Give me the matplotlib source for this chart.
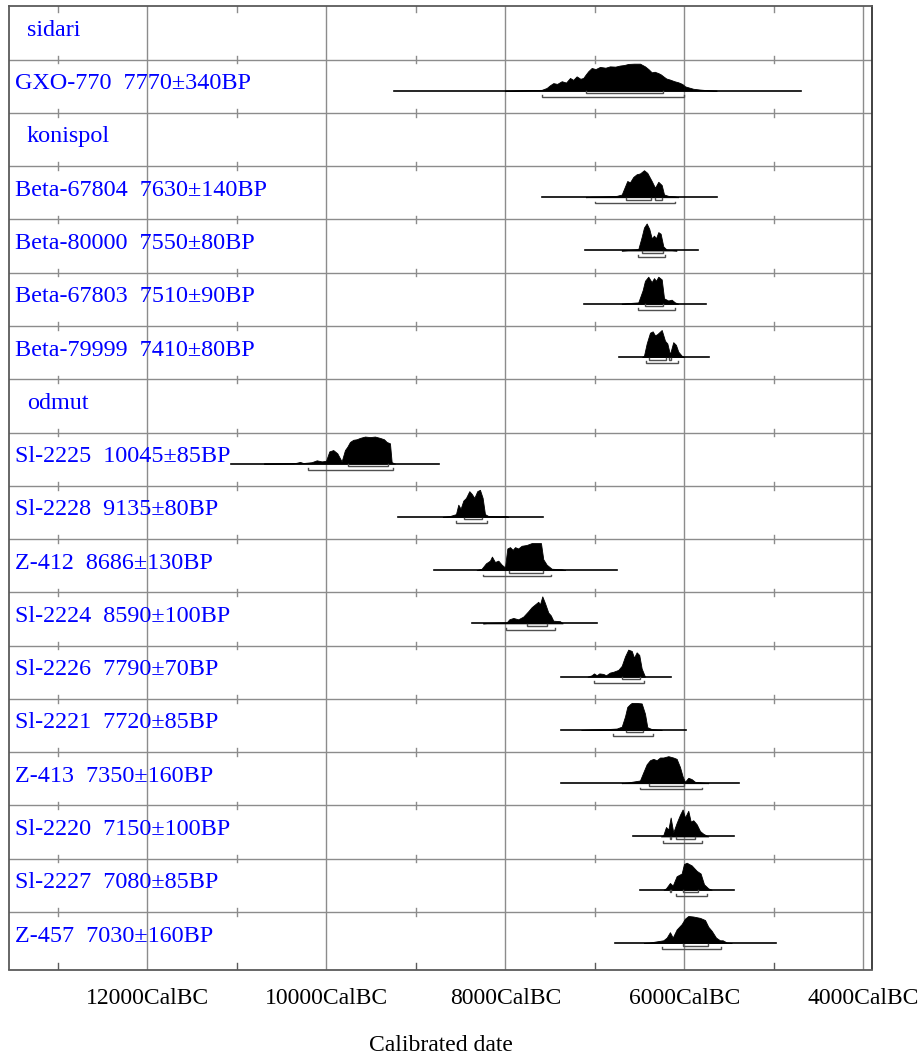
"""
plot.py
OxCal-style multiplot of calibrated radiocarbon dates (sidari / konispol / odmut)
"""

import matplotlib
matplotlib.use("Agg")
import matplotlib.pyplot as plt
import matplotlib.transforms as mtransforms

plt.rcParams["font.family"] = ["Liberation Serif", "DejaVu Serif"]

# ---- row labels (top to bottom); None in SAMPLE_KEYS marks a site header ----
ROW_LABELS = [
    "sidari",
    "GXO-770  7770±340BP",
    "konispol",
    "Beta-67804  7630±140BP",
    "Beta-80000  7550±80BP",
    "Beta-67803  7510±90BP",
    "Beta-79999  7410±80BP",
    "odmut",
    "Sl-2225  10045±85BP",
    "Sl-2228  9135±80BP",
    "Z-412  8686±130BP",
    "Sl-2224  8590±100BP",
    "Sl-2226  7790±70BP",
    "Sl-2221  7720±85BP",
    "Z-413  7350±160BP",
    "Sl-2220  7150±100BP",
    "Sl-2227  7080±85BP",
    "Z-457  7030±160BP",
]
SAMPLE_KEYS = [None, "GXO-770", None, "Beta-67804", "Beta-80000", "Beta-67803",
               "Beta-79999", None, "Sl-2225", "Sl-2228", "Z-412", "Sl-2224",
               "Sl-2226", "Sl-2221", "Z-413", "Sl-2220", "Sl-2227", "Z-457"]

# ---- x axis (years cal BC) ----
MAJOR_TICKS = [12000, 10000, 8000, 6000, 4000]
MINOR_TICKS = [13000, 11000, 9000, 7000, 5000]
TICK_LABELS = ["12000CalBC", "10000CalBC", "8000CalBC", "6000CalBC", "4000CalBC"]
X_LEFT, X_RIGHT = 13548, 3900

# ---- probability distributions: years cal BC and relative density ----
GXO_770_YEARS = [8004, 7724, 7593, 7537, 7500, 7463, 7420, 7369, 7320, 7276, 7240, 7202,
                 7160, 7128, 7100, 7072, 7034, 6990, 6941, 6880, 6830, 6770, 6718, 6670,
                 6625, 6560, 6494, 6438, 6400, 6363, 6330, 6289, 6260, 6233, 6200, 6159,
                 6110, 6066, 6030, 6010, 5991, 5950, 5898, 5820, 5748, 5636]
GXO_770_DENS = [0.0, 0.02, 0.03, 0.1, 0.2, 0.28, 0.25, 0.35, 0.3, 0.47, 0.4, 0.53,
                0.44, 0.47, 0.6, 0.72, 0.84, 0.8, 0.88, 0.85, 0.9, 0.89, 0.93, 0.95,
                0.99, 1.0, 1.0, 0.9, 0.8, 0.68, 0.7, 0.65, 0.6, 0.53, 0.45, 0.41,
                0.35, 0.31, 0.26, 0.22, 0.16, 0.12, 0.07, 0.04, 0.02, 0.0]

BETA_67804_YEARS = [7100, 7034, 6904, 6754, 6698, 6661, 6636, 6606, 6569, 6531, 6494, 6449,
                    6412, 6363, 6326, 6289, 6251, 6225, 6178, 6103, 6066]
BETA_67804_DENS = [0.0, 0.02, 0.03, 0.05, 0.1, 0.4, 0.6, 0.55, 0.75, 0.85, 0.88, 1.0,
                   0.9, 0.6, 0.35, 0.57, 0.45, 0.1, 0.05, 0.03, 0.0]

BETA_80000_YEARS = [6700, 6606, 6513, 6475, 6449, 6419, 6390, 6363, 6337, 6315, 6289, 6263,
                    6233, 6195, 6084]
BETA_80000_DENS = [0.0, 0.02, 0.05, 0.5, 0.85, 1.0, 0.8, 0.45, 0.55, 0.45, 0.68, 0.62,
                   0.15, 0.03, 0.0]

BETA_67803_YEARS = [6700, 6643, 6513, 6464, 6438, 6401, 6363, 6337, 6315, 6289, 6251, 6225,
                    6178, 6140, 6103, 6066]
BETA_67803_DENS = [0.0, 0.02, 0.05, 0.5, 0.85, 1.0, 0.8, 0.95, 0.85, 1.0, 0.9, 0.2,
                   0.12, 0.15, 0.05, 0.0]

BETA_79999_YEARS = [6470, 6449, 6419, 6382, 6352, 6326, 6300, 6251, 6214, 6188, 6159, 6122,
                    6092, 6066, 6028, 6002]
BETA_79999_DENS = [0.0, 0.05, 0.5, 0.9, 0.95, 0.8, 0.85, 1.0, 0.6, 0.5, 0.1, 0.55,
                   0.45, 0.2, 0.05, 0.0]

SL_2225_YEARS = [10700, 10519, 10370, 10332, 10295, 10258, 10164, 10108, 10052, 10004, 9967,
                 9923, 9878, 9829, 9792, 9766, 9736, 9699, 9661, 9624, 9568, 9512, 9457,
                 9401, 9356, 9326, 9289, 9270, 9233]
SL_2225_DENS = [0.0, 0.005, 0.01, 0.03, 0.06, 0.02, 0.05, 0.12, 0.08, 0.1, 0.45,
                0.5, 0.38, 0.08, 0.5, 0.62, 0.8, 0.88, 0.9, 0.95, 1.0, 0.98, 1.0,
                0.95, 0.9, 0.8, 0.75, 0.05, 0.0]

SL_2228_YEARS = [8700, 8618, 8551, 8525, 8499, 8469, 8439, 8402, 8375, 8346, 8313, 8283,
                 8253, 8227, 8190, 8059, 7992, 7966]
SL_2228_DENS = [0.0, 0.03, 0.1, 0.45, 0.3, 0.6, 0.7, 0.95, 0.85, 0.7, 0.95, 1.0,
                0.7, 0.1, 0.03, 0.02, 0.03, 0.0]

Z_412_YEARS = [8320, 8264, 8216, 8171, 8149, 8115, 8078, 8040, 8003, 7977, 7947, 7917,
               7891, 7855, 7817, 7761, 7705, 7649, 7601, 7575, 7537, 7481, 7369, 7332]
Z_412_DENS = [0.0, 0.05, 0.25, 0.35, 0.5, 0.3, 0.35, 0.2, 0.1, 0.8, 0.85, 0.75,
              0.85, 0.8, 0.9, 0.93, 1.0, 1.0, 1.0, 0.4, 0.2, 0.05, 0.03, 0.0]

SL_2224_YEARS = [8250, 8171, 7984, 7955, 7910, 7855, 7799, 7743, 7705, 7668, 7631, 7612,
                 7586, 7556, 7519, 7492, 7463, 7388, 7358]
SL_2224_DENS = [0.0, 0.02, 0.04, 0.15, 0.2, 0.15, 0.25, 0.45, 0.6, 0.7, 0.8, 0.7,
                1.0, 0.75, 0.4, 0.3, 0.1, 0.08, 0.0]

SL_2226_YEARS = [7080, 7034, 7008, 6978, 6949, 6904, 6874, 6830, 6792, 6736, 6698, 6661,
                 6625, 6586, 6561, 6531, 6502, 6475, 6438]
SL_2226_DENS = [0.0, 0.05, 0.12, 0.05, 0.12, 0.1, 0.05, 0.15, 0.18, 0.25, 0.4, 0.75,
                1.0, 0.95, 0.7, 0.9, 0.8, 0.3, 0.0]

SL_2221_YEARS = [7150, 7034, 6866, 6754, 6698, 6661, 6636, 6606, 6586, 6531, 6475, 6438,
                 6412, 6363, 6251]
SL_2221_DENS = [0.0, 0.02, 0.03, 0.05, 0.12, 0.5, 0.85, 0.95, 1.0, 1.0, 0.98, 0.6,
                0.1, 0.03, 0.0]

Z_413_YEARS = [6700, 6625, 6494, 6457, 6419, 6382, 6345, 6307, 6270, 6233, 6177, 6122,
               6084, 6047, 6017, 5991, 5954, 5916, 5879, 5786, 5730]
Z_413_DENS = [0.0, 0.03, 0.1, 0.4, 0.7, 0.85, 0.9, 0.85, 0.95, 0.95, 1.0, 0.95,
              0.9, 0.6, 0.25, 0.05, 0.2, 0.15, 0.05, 0.02, 0.0]

SL_2220_YEARS = [6260, 6233, 6203, 6177, 6151, 6122, 6084, 6047, 6017, 5991, 5954, 5927,
                 5898, 5860, 5823, 5786, 5730]
SL_2220_DENS = [0.0, 0.05, 0.35, 0.25, 0.7, 0.15, 0.5, 0.8, 1.0, 0.7, 0.95, 0.55,
                0.6, 0.45, 0.2, 0.1, 0.0]

SL_2227_YEARS = [6230, 6203, 6159, 6128, 6084, 6028, 6002, 5972, 5916, 5860, 5816, 5778,
                 5730, 5692]
SL_2227_DENS = [0.0, 0.05, 0.25, 0.15, 0.5, 0.6, 0.95, 1.0, 0.9, 0.7, 0.6, 0.2,
                0.05, 0.0]

Z_457_YEARS = [6450, 6382, 6233, 6195, 6159, 6128, 6084, 6028, 5991, 5954, 5898, 5823,
               5767, 5730, 5692, 5644, 5600, 5569, 5525, 5469]
Z_457_DENS = [0.0, 0.02, 0.1, 0.2, 0.4, 0.2, 0.5, 0.7, 0.9, 1.0, 0.98, 0.93,
              0.85, 0.6, 0.45, 0.2, 0.1, 0.1, 0.02, 0.0]

# ---- baseline extent (years cal BC) ----
SPANS = {
    "GXO-770": (9244, 4697), "Beta-67804": (7593, 5636), "Beta-80000": (7109, 5849),
    "Beta-67803": (7121, 5759), "Beta-79999": (6729, 5722), "Sl-2225": (11066, 8738),
    "Sl-2228": (9196, 7575), "Z-412": (8794, 6754), "Sl-2224": (8369, 6978),
    "Sl-2226": (7377, 6147), "Sl-2221": (7377, 5983), "Z-413": (7380, 5390),
    "Sl-2220": (6575, 5442), "Sl-2227": (6494, 5442), "Z-457": (6773, 4977),
}

# ---- 68.2% and 95.4% ranges (years cal BC) ----
RANGES_68 = {
    "GXO-770": [(7101, 6240)], "Beta-67804": [(6651, 6371), (6326, 6251)],
    "Beta-80000": [(6468, 6240)], "Beta-67803": [(6438, 6240)],
    "Beta-79999": [(6390, 6207), (6165, 6150)], "Sl-2225": [(9755, 9308)],
    "Sl-2228": [(8458, 8257)], "Z-412": [(7955, 7575)], "Sl-2224": [(7754, 7530)],
    "Sl-2226": [(6692, 6494)], "Sl-2221": [(6651, 6457)], "Z-413": [(6390, 6000)],
    "Sl-2220": [(6155, 6145), (6092, 5879)], "Sl-2227": [(6155, 6145), (6017, 5842)],
    "Z-457": [(6017, 5730)],
}
RANGES_95 = {
    "GXO-770": [(7593, 6002)], "Beta-67804": [(6997, 6099)], "Beta-80000": [(6513, 6214)],
    "Beta-67803": [(6513, 6103)], "Beta-79999": [(6427, 6066)], "Sl-2225": [(10202, 9252)],
    "Sl-2228": [(8554, 8208)], "Z-412": [(8253, 7492)], "Sl-2224": [(7992, 7444)],
    "Sl-2226": [(7005, 6446)], "Sl-2221": [(6799, 6345)], "Z-413": [(6494, 5797)],
    "Sl-2220": [(6233, 5797)], "Sl-2227": [(6092, 5741)], "Z-457": [(6251, 5592)],
}

DISTS = {
    "GXO-770": (GXO_770_YEARS, GXO_770_DENS), "Beta-67804": (BETA_67804_YEARS, BETA_67804_DENS),
    "Beta-80000": (BETA_80000_YEARS, BETA_80000_DENS), "Beta-67803": (BETA_67803_YEARS, BETA_67803_DENS),
    "Beta-79999": (BETA_79999_YEARS, BETA_79999_DENS), "Sl-2225": (SL_2225_YEARS, SL_2225_DENS),
    "Sl-2228": (SL_2228_YEARS, SL_2228_DENS), "Z-412": (Z_412_YEARS, Z_412_DENS),
    "Sl-2224": (SL_2224_YEARS, SL_2224_DENS), "Sl-2226": (SL_2226_YEARS, SL_2226_DENS),
    "Sl-2221": (SL_2221_YEARS, SL_2221_DENS), "Z-413": (Z_413_YEARS, Z_413_DENS),
    "Sl-2220": (SL_2220_YEARS, SL_2220_DENS), "Sl-2227": (SL_2227_YEARS, SL_2227_DENS),
    "Z-457": (Z_457_YEARS, Z_457_DENS),
}

# layout in row units (one row = 53.27 px)
BASE_OFF = 0.582     # baseline below row top
PEAK_H = 0.507       # height of a density of 1.0
R68_OFF = 0.048
R95_OFF = 0.118
TEXT_OFF = 0.554     # text baseline below row top
GRID_C = "#8c8c8c"
FRAME_C = "#5a5a5a"
BRACKET_C = "#505050"
FS = 17.4
FS_AXIS = 17


def draw_bracket(ax, y, a, b):
    ax.plot([a, a, b, b], [y - 0.035, y, y, y - 0.035], color=BRACKET_C, lw=1.0,
            solid_joinstyle="miter", zorder=4)


def main():
    fig = plt.figure(figsize=(9.24, 10.58), dpi=100)
    W, H = 924, 1058
    top_px, bot_px, left_px, right_px = 6.4, 969.5, 9, 872
    ax = fig.add_axes([left_px / W, 1 - bot_px / H, (right_px - left_px) / W,
                       (bot_px - top_px) / H])
    n_rows = len(ROW_LABELS)
    y_bottom = (bot_px - top_px) / 53.27
    ax.set_xlim(X_LEFT, X_RIGHT)
    ax.set_ylim(y_bottom, 0)

    # grid
    for t in MAJOR_TICKS:
        ax.axvline(t, color=GRID_C, lw=1.0, zorder=1)
    for r in range(1, n_rows):
        ax.axhline(r, color=GRID_C, lw=1.0, zorder=1)
        for t in MINOR_TICKS:
            ax.plot([t, t], [r - 0.07, r + 0.07], color=GRID_C, lw=1.0, zorder=1)
    for t in MINOR_TICKS:
        ax.plot([t, t], [0, 0.11], color=GRID_C, lw=1.0, zorder=1)
        ax.plot([t, t], [y_bottom, y_bottom - 0.13], color=FRAME_C, lw=1.0, zorder=1)

    label_tf = mtransforms.blended_transform_factory(ax.transAxes, ax.transData)
    for r, (label, key) in enumerate(zip(ROW_LABELS, SAMPLE_KEYS)):
        if key is None:
            ax.text(18 / 863, r + TEXT_OFF, label, transform=label_tf, color="#0000ff",
                    fontsize=FS, va="baseline", ha="left", zorder=6)
            continue
        ax.text(6 / 863, r + TEXT_OFF, label, transform=label_tf, color="#0000ff",
                fontsize=FS, va="baseline", ha="left", zorder=6)
        base = r + BASE_OFF
        years, dens = DISTS[key]
        tops = [base - d * PEAK_H for d in dens]
        ax.fill_between(years, base, tops, color="black", lw=0.6, edgecolor="black", zorder=3)
        s0, s1 = SPANS[key]
        ax.plot([s0, s1], [base, base], color="black", lw=1.2, zorder=3)
        for a, b in RANGES_68[key]:
            draw_bracket(ax, base + R68_OFF, a, b)
        for a, b in RANGES_95[key]:
            draw_bracket(ax, base + R95_OFF, a, b)

    ax.set_yticks([])
    ax.set_xticks(MAJOR_TICKS)
    ax.set_xticklabels(TICK_LABELS, fontsize=FS_AXIS)
    ax.tick_params(axis="x", length=0, pad=13.5)
    for sp in ax.spines.values():
        sp.set_color(FRAME_C)
        sp.set_linewidth(1.3)
    ax.spines["right"].set_color("#333333")

    fig.text(441 / W, 1 - 1051 / H, "Calibrated date", fontsize=FS_AXIS, ha="center",
             va="baseline")

    fig.savefig("out.png", dpi=100)
    plt.close(fig)


if __name__ == "__main__":
    main()
